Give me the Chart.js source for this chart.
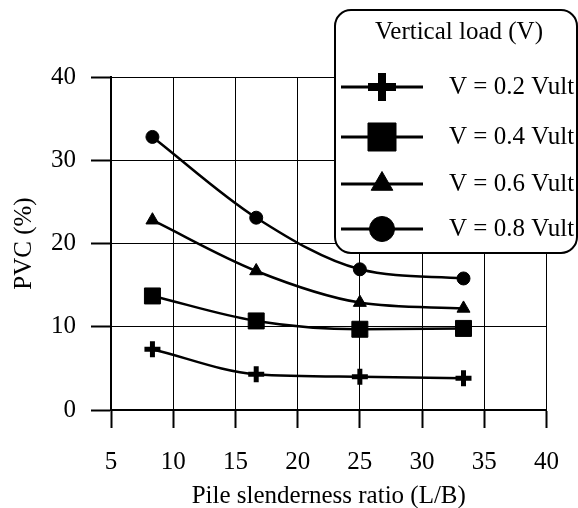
<!DOCTYPE html>
<html><head><meta charset="utf-8">
<script src="https://cdn.jsdelivr.net/npm/chart.js@4.4.1/dist/chart.umd.min.js"></script>
<style>html,body{margin:0;padding:0;background:#fff;} canvas{display:block;}</style>
</head><body>
<canvas id="c" width="578" height="508"></canvas>
<script>
// ---- data ----
const slendernessRatio = [8.33, 16.67, 25, 33.33];
const pvc02 = [7.3, 4.3, 4.0, 3.8];
const pvc04 = [13.7, 10.7, 9.7, 9.8];
const pvc06 = [22.8, 16.7, 12.9, 12.2];
const pvc08 = [32.8, 23.1, 16.9, 15.8];
const seriesLabels = ['V = 0.2 Vult', 'V = 0.4 Vult', 'V = 0.6 Vult', 'V = 0.8 Vult'];
const legendTitle = 'Vertical load (V)';
const xTitle = 'Pile slenderness ratio (L/B)';
const yTitle = 'PVC (%)';
const xRange = [5, 40], xStep = 5;
const yRange = [0, 40], yStep = 10;

const FONT = '"Liberation Serif", "Times New Roman", serif';
const FS = 25;

function pts(vals){ return slendernessRatio.map((x,i)=>({x:x, y:vals[i]})); }

const styles = [
  {pointStyle:'cross', radius:8, borderWidth:5, lr:14, lw:8},
  {pointStyle:'rect', radius:11.3, borderWidth:1, lr:19.8, lw:1},
  {pointStyle:'triangle', radius:7.5, borderWidth:1, lr:12.5, lw:1},
  {pointStyle:'circle', radius:6.5, borderWidth:1, lr:12.5, lw:1}
];
const seriesValues = [pvc02, pvc04, pvc06, pvc08];

const datasets = seriesValues.map((v,i)=>({
  label: seriesLabels[i],
  data: pts(v),
  borderColor:'#000',
  backgroundColor:'#000',
  borderWidth:2.5,
  cubicInterpolationMode:'monotone',
  pointStyle: styles[i].pointStyle,
  pointRadius: styles[i].radius,
  pointBorderWidth: styles[i].borderWidth,
  pointBackgroundColor:'#000',
  pointBorderColor:'#000',
  legendRadius: styles[i].lr,
  legendBorderWidth: styles[i].lw
}));

const boxLegend = {
  id:'boxLegend',
  afterDraw(chart){
    const ctx = chart.ctx;
    ctx.save();
    const x0=335, y0=10, x1=577, y1=253, r=16;
    ctx.beginPath();
    ctx.roundRect(x0, y0, x1-x0, y1-y0, r);
    ctx.fillStyle='#fff'; ctx.fill();
    ctx.lineWidth=2; ctx.strokeStyle='#000'; ctx.stroke();
    ctx.font = FS + 'px ' + FONT;
    ctx.fillStyle='#000';
    ctx.textAlign='center'; ctx.textBaseline='middle';
    ctx.fillText(legendTitle, 459, 32);
    const rows=[87, 137, 184, 229];
    chart.data.datasets.forEach((ds,i)=>{
      const y = rows[i];
      ctx.beginPath(); ctx.moveTo(341, y); ctx.lineTo(423, y);
      ctx.lineWidth=3; ctx.strokeStyle='#000'; ctx.stroke();
      ctx.lineWidth = ds.legendBorderWidth; ctx.fillStyle='#000'; ctx.strokeStyle='#000';
      Chart.helpers.drawPoint(ctx, {pointStyle: ds.pointStyle, rotation:0, radius: ds.legendRadius, borderWidth: ds.legendBorderWidth}, 382, y);
      ctx.textAlign='left'; ctx.textBaseline='middle'; ctx.fillStyle='#000';
      ctx.fillText(ds.label, 449, y);
    });
    ctx.restore();
  }
};

new Chart(document.getElementById('c'), {
  type:'line',
  data:{datasets},
  options:{
    responsive:false,
    animation:false,
    devicePixelRatio:1,
    layout:{padding:{top:77, right:18, left:0, bottom:0}},
    plugins:{legend:{display:false}, tooltip:{enabled:false}},
    scales:{
      x:{
        type:'linear', min:xRange[0], max:xRange[1],
        ticks:{stepSize:xStep, color:'#000', font:{family:FONT, size:FS}, padding:19, maxRotation:0},
        grid:{color:'#000', lineWidth:1, tickLength:18, tickWidth:2, tickColor:'#000'},
        border:{color:'#000', width:2},
        title:{display:true, text:xTitle, color:'#000', font:{family:FONT, size:FS, lineHeight:1}, padding:{top:0, bottom:-1}},
        afterFit(s){ s.height = 98; }
      },
      y:{
        type:'linear', min:yRange[0], max:yRange[1],
        ticks:{stepSize:yStep, color:'#000', font:{family:FONT, size:FS}, padding:15},
        grid:{color:'#000', lineWidth:1, tickLength:20, tickWidth:2, tickColor:'#000'},
        border:{color:'#000', width:2},
        title:{display:true, text:yTitle, color:'#000', font:{family:FONT, size:FS, lineHeight:1}, padding:{top:12, bottom:0}},
        afterFit(s){ s.width = 111; }
      }
    }
  },
  plugins:[boxLegend]
});
</script>
</body></html>
